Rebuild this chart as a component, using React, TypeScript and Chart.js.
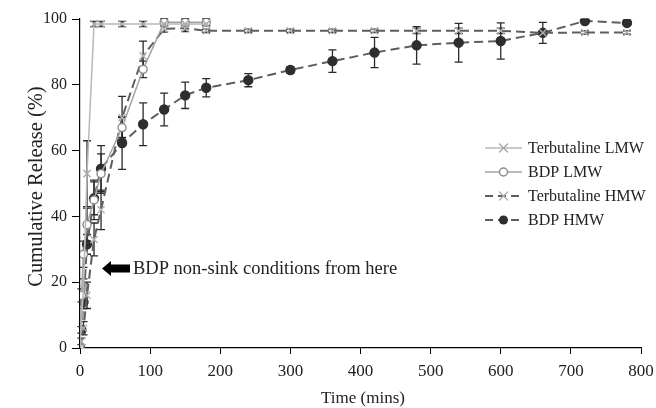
import React, { useEffect, useRef } from "react";
import { Chart, registerables } from "chart.js";

Chart.register(...registerables);

// ---- data ----
const terbLmwTime = [0, 5, 10, 20, 30, 60, 90, 120, 150, 180];
const terbLmwValue = [0, 18, 53, 98.5, 98.5, 98.5, 98.5, 98.5, 98.5, 98.5];
const terbLmwError = [0, 3, 10, 0.8, 0.8, 0.8, 0.8, 0.6, 0.5, 0.5];

const bdpLmwTime = [0, 2, 5, 10, 20, 30, 60, 90, 120, 150, 180];
const bdpLmwValue = [0, 16, 28.5, 37.5, 45, 53, 67, 84.7, 99, 99, 99];
const bdpLmwError = [0, 2, 4, 5, 6, 6, 3, 2.5, 1, 1, 1];

const terbHmwTime = [0, 2, 5, 10, 20, 30, 60, 90, 120, 150, 180, 240, 300, 360, 420, 480, 540, 600, 660, 720, 780];
const terbHmwValue = [0, 2, 6, 16, 33, 42, 70, 88.8, 97, 97.2, 96.4, 96.4, 96.4, 96.4, 96.4, 96.4, 96.4, 96.4, 95.8, 95.9, 95.9];
const terbHmwError = [0, 1, 2, 4, 5, 6, 6.5, 4.5, 1, 1, 0.5, 0.5, 0.5, 0.5, 0.5, 0.8, 0.8, 0.8, 0.5, 0.5, 0.5];

const bdpHmwTime = [0, 2, 5, 10, 20, 30, 60, 90, 120, 150, 180, 240, 300, 360, 420, 480, 540, 600, 660, 720, 780];
const bdpHmwValue = [0, 5.5, 14, 31.5, 45.5, 54.5, 62.3, 68, 72.5, 76.8, 79.1, 81.4, 84.5, 87.2, 89.8, 92, 92.8, 93.3, 95.8, 99.4, 98.8];
const bdpHmwError = [0, 1, 2, 3, 5, 7, 8, 6.5, 5, 4, 2.8, 2, 1, 3.4, 4.6, 5.7, 5.9, 5.5, 3.2, 0.6, 0.6];

const seriesNames = ["Terbutaline LMW", "BDP LMW", "Terbutaline HMW", "BDP HMW"];
const xTickValues = [0, 100, 200, 300, 400, 500, 600, 700, 800];
const yTickValues = [0, 20, 40, 60, 80, 100];
const xTitle = "Time (mins)";
const yTitle = "Cumulative Release (%)";
const annotationText = "BDP non-sink conditions from here";

const SERIF = '"Liberation Serif", "Times New Roman", serif';

const toPoints = (t: number[], v: number[]) => t.map((x, i) => ({ x, y: v[i] }));

type Style = {
  line: string;
  dash: number[];
  marker: "x" | "open" | "dot";
  markerColor: string;
  width: number;
};

const styles: Style[] = [
  { line: "#b8b8b8", dash: [], marker: "x", markerColor: "#a8a8a8", width: 1.5 },
  { line: "#a4a4a4", dash: [], marker: "open", markerColor: "#8a8a8a", width: 1.5 },
  { line: "#5e5e5e", dash: [9, 5], marker: "x", markerColor: "#b0b0b0", width: 2 },
  { line: "#5e5e5e", dash: [9, 5], marker: "dot", markerColor: "#2e2e2e", width: 2 },
];

function drawMarker(ctx: CanvasRenderingContext2D, s: Style, x: number, y: number) {
  ctx.save();
  ctx.setLineDash([]);
  if (s.marker === "x") {
    ctx.strokeStyle = s.markerColor;
    ctx.lineWidth = 1.4;
    const r = 4.5;
    ctx.beginPath();
    ctx.moveTo(x - r, y - r);
    ctx.lineTo(x + r, y + r);
    ctx.moveTo(x - r, y + r);
    ctx.lineTo(x + r, y - r);
    ctx.stroke();
  } else if (s.marker === "open") {
    ctx.strokeStyle = s.markerColor;
    ctx.fillStyle = "#ffffff";
    ctx.lineWidth = 1.4;
    ctx.beginPath();
    ctx.arc(x, y, 4, 0, Math.PI * 2);
    ctx.fill();
    ctx.stroke();
  } else {
    ctx.fillStyle = s.markerColor;
    ctx.beginPath();
    ctx.arc(x, y, 4.5, 0, Math.PI * 2);
    ctx.fill();
  }
  ctx.restore();
}

const overlayPlugin = {
  id: "overlay",
  beforeDatasetsDraw(chart: any) {
    const ctx: CanvasRenderingContext2D = chart.ctx;
    const yScale = chart.scales.y;
    ctx.save();
    chart.data.datasets.forEach((ds: any, i: number) => {
      const meta = chart.getDatasetMeta(i);
      const errs: number[] = ds.errors || [];
      meta.data.forEach((pt: any, j: number) => {
        const e = errs[j];
        if (!e) return;
        const v = ds.data[j].y;
        const x = pt.x;
        const y1 = yScale.getPixelForValue(v + e);
        const y2 = yScale.getPixelForValue(v - e);
        ctx.strokeStyle = "#2a2a2a";
        ctx.lineWidth = 1.3;
        ctx.setLineDash([]);
        ctx.beginPath();
        ctx.moveTo(x, y1);
        ctx.lineTo(x, y2);
        ctx.moveTo(x - 4, y1);
        ctx.lineTo(x + 4, y1);
        ctx.moveTo(x - 4, y2);
        ctx.lineTo(x + 4, y2);
        ctx.stroke();
      });
    });
    ctx.restore();
  },
  afterDraw(chart: any) {
    const ctx: CanvasRenderingContext2D = chart.ctx;
    const area = chart.chartArea;
    ctx.save();
    ctx.fillStyle = "#222";
    // x title
    ctx.font = `17px ${SERIF}`;
    ctx.textAlign = "center";
    ctx.textBaseline = "middle";
    ctx.fillText(xTitle, 363, 399);
    // y title
    ctx.save();
    ctx.translate(37, (area.top + area.bottom) / 2 + 3);
    ctx.rotate(-Math.PI / 2);
    ctx.font = `20.5px ${SERIF}`;
    ctx.fillText(yTitle, 0, 0);
    ctx.restore();

    // legend
    ctx.font = `16px ${SERIF}`;
    ctx.textAlign = "left";
    ctx.textBaseline = "middle";
    seriesNames.forEach((name, i) => {
      const s = styles[i];
      const y = 148 + i * 24;
      ctx.save();
      ctx.strokeStyle = s.line;
      ctx.lineWidth = s.width;
      ctx.setLineDash(s.dash.length ? [8, 5] : []);
      ctx.beginPath();
      ctx.moveTo(485, y);
      ctx.lineTo(522, y);
      ctx.stroke();
      ctx.restore();
      drawMarker(ctx, s, 503.5, y);
      ctx.fillStyle = "#222";
      ctx.fillText(name, 528, y + 1);
    });

    // annotation arrow
    const ay = 268.5;
    ctx.fillStyle = "#000";
    ctx.beginPath();
    ctx.moveTo(102, ay);
    ctx.lineTo(111, ay - 7.5);
    ctx.lineTo(111, ay - 4);
    ctx.lineTo(130, ay - 4);
    ctx.lineTo(130, ay + 4);
    ctx.lineTo(111, ay + 4);
    ctx.lineTo(111, ay + 7.5);
    ctx.closePath();
    ctx.fill();
    ctx.fillStyle = "#222";
    ctx.font = `18.5px ${SERIF}`;
    ctx.textAlign = "left";
    ctx.textBaseline = "middle";
    ctx.fillText(annotationText, 133, ay + 1);
    ctx.restore();
  },
};

export default function App() {
  const ref = useRef<HTMLCanvasElement | null>(null);
  useEffect(() => {
    document.body.style.margin = "0";
    const canvas = ref.current;
    if (!canvas) return;
    const series = [
      [terbLmwTime, terbLmwValue, terbLmwError],
      [bdpLmwTime, bdpLmwValue, bdpLmwError],
      [terbHmwTime, terbHmwValue, terbHmwError],
      [bdpHmwTime, bdpHmwValue, bdpHmwError],
    ];
    const datasets = series.map(([t, v, e], i) => {
      const s = styles[i];
      return {
        label: seriesNames[i],
        data: toPoints(t, v),
        errors: e,
        borderColor: s.line,
        borderWidth: s.width,
        borderDash: s.dash,
        pointStyle: s.marker === "x" ? "crossRot" : "circle",
        pointRadius: s.marker === "x" ? 5 : s.marker === "open" ? 4 : 4.5,
        pointBorderWidth: 1.4,
        pointBorderColor: s.markerColor,
        pointBackgroundColor: s.marker === "open" ? "#ffffff" : s.markerColor,
        pointHoverRadius: 0,
        fill: false,
        tension: 0,
      };
    });
    const chart = new Chart(canvas, {
      type: "line",
      data: { datasets } as any,
      options: {
        animation: false,
        responsive: false,
        maintainAspectRatio: false,
        layout: { padding: { top: 19, right: 15, left: 0, bottom: 0 } },
        plugins: { legend: { display: false }, tooltip: { enabled: false } },
        scales: {
          x: {
            type: "linear",
            min: 0,
            max: 800,
            afterFit: (scale: any) => {
              scale.height = 60;
              scale.paddingRight = 0;
              scale.paddingLeft = 0;
            },
            afterBuildTicks: (scale: any) => {
              scale.ticks = xTickValues.map((value) => ({ value }));
            },
            ticks: { font: { family: SERIF, size: 17 }, color: "#222", padding: 7, maxRotation: 0 },
            grid: { drawOnChartArea: false, drawTicks: true, tickLength: 6, color: "#000", tickColor: "#000" },
            border: { display: true, color: "#000", width: 1.2 },
          },
          y: {
            type: "linear",
            min: 0,
            max: 100,
            afterFit: (scale: any) => {
              scale.width = 80;
            },
            afterBuildTicks: (scale: any) => {
              scale.ticks = yTickValues.map((value) => ({ value }));
            },
            ticks: { font: { family: SERIF, size: 16 }, color: "#222", padding: 5 },
            grid: { drawOnChartArea: false, drawTicks: true, tickLength: 8, color: "#000", tickColor: "#000" },
            border: { display: true, color: "#000", width: 1.2 },
          },
        },
      } as any,
      plugins: [overlayPlugin],
    });
    return () => chart.destroy();
  }, []);
  return (
    <div style={{ width: 656, height: 408 }}>
      <canvas ref={ref} width={656} height={408} style={{ display: "block" }} />
    </div>
  );
}
